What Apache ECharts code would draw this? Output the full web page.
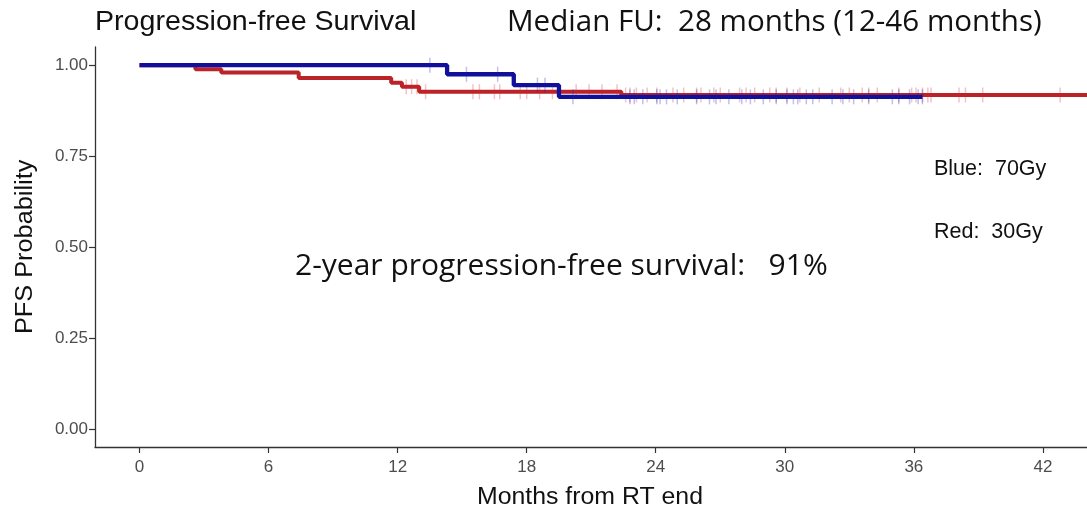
<!DOCTYPE html>
<html>
<head>
<meta charset="utf-8">
<script src="https://cdn.jsdelivr.net/npm/echarts@6/dist/echarts.min.js"></script>
<style>
html,body{margin:0;padding:0;background:#fff;}
#chart{width:1087px;height:515px;}
</style>
</head>
<body>
<div id="chart"></div>
<script>
// ---- data ----
const xTicks = [0, 6, 12, 18, 24, 30, 36, 42];
const yTicks = [0, 0.25, 0.5, 0.75, 1];

// 70Gy (blue) Kaplan-Meier steps
const blueTimes = [0, 14.3, 17.4, 19.5, 36.4];
const blueSurv  = [1.000, 0.975, 0.945, 0.913, 0.913];
const blueCensor = [13.5, 15.2, 16.65, 18.5, 18.85, 20.15, 22.8, 23.0, 23.4, 24.05, 24.2, 24.5,
  25.0, 25.9, 26.5, 26.8, 27.4, 28.0, 28.4, 29.0, 29.6, 30.1, 30.4, 30.6, 31.0, 31.3, 32.2,
  32.7, 33.2, 33.9, 35.0, 35.3, 35.8, 36.2, 36.4];

// 30Gy (red) Kaplan-Meier steps
const redTimes = [0, 2.6, 3.8, 7.4, 11.7, 12.2, 13.0, 22.4, 46];
const redSurv  = [1.000, 0.989, 0.980, 0.965, 0.952, 0.941, 0.927, 0.918, 0.918];
const redCensor = [12.4, 12.65, 12.9, 13.3, 15.5, 15.8, 16.5, 16.75, 17.7, 18.0, 18.6, 19.2,
  20.3, 20.9, 21.5, 22.2, 22.6, 22.8, 23.1, 23.6, 24.05, 24.8, 25.3, 25.9, 26.1, 26.7, 27.0,
  27.9, 28.2, 28.6, 29.3, 29.6, 30.1, 30.7, 31.6, 32.6, 33.0, 33.6, 33.9, 34.3, 35.3, 35.9,
  36.1, 36.4, 36.65, 36.8, 38.1, 38.4, 39.2, 42.8];

// ---- helpers ----
function pairs(ts, ss) { return ts.map((t, i) => [t, ss[i]]); }
function survAt(ts, ss, t) {
  let v = ss[0];
  for (let i = 0; i < ts.length; i++) { if (ts[i] <= t) v = ss[i]; }
  return v;
}
function censorPts(cs, ts, ss) { return cs.map(t => [t, survAt(ts, ss, t)]); }

const BLUE = '#10109a';
const RED = '#bb2329';
const ARIAL = '"Liberation Sans", Arial, sans-serif';
const SANS2 = '"Open Sans", "Noto Sans", sans-serif';

const chart = echarts.init(document.getElementById('chart'), null, {renderer: 'canvas'});
chart.setOption({
  animation: false,
  backgroundColor: '#fff',
  grid: {left: 95, right: 0, top: 47, bottom: 68, containLabel: false},
  xAxis: {
    type: 'value', min: -2.07, max: 44.05,
    axisLine: {show: true, onZero: false, lineStyle: {color: '#333', width: 1.3}},
    axisTick: {show: true, length: 6, lineStyle: {color: '#333', width: 1.2}, customValues: xTicks},
    axisLabel: {color: '#4d4d4d', fontSize: 17, fontFamily: ARIAL, margin: 12, customValues: xTicks},
    splitLine: {show: false}
  },
  yAxis: {
    type: 'value', min: -0.05, max: 1.05,
    axisLine: {show: true, onZero: false, lineStyle: {color: '#333', width: 1.3}},
    axisTick: {show: true, length: 6, lineStyle: {color: '#333', width: 1.2}, customValues: yTicks},
    axisLabel: {color: '#4d4d4d', fontSize: 17, fontFamily: ARIAL, margin: 7, customValues: yTicks,
      formatter: v => v.toFixed(2)},
    splitLine: {show: false}
  },
  series: [
    {type: 'line', name: '30Gy', step: 'end', data: pairs(redTimes, redSurv), showSymbol: false,
      lineStyle: {color: RED, width: 4}, clip: true, z: 2},
    {type: 'scatter', name: '30Gy censored', data: censorPts(redCensor, redTimes, redSurv),
      symbol: 'rect', symbolSize: [1.5, 15], itemStyle: {color: 'rgba(205,40,50,0.35)'}, z: 3},
    {type: 'line', name: '70Gy', step: 'end', data: pairs(blueTimes, blueSurv), showSymbol: false,
      lineStyle: {color: BLUE, width: 4.3}, clip: true, z: 4},
    {type: 'scatter', name: '70Gy censored', data: censorPts(blueCensor, blueTimes, blueSurv),
      symbol: 'rect', symbolSize: [1.5, 15], itemStyle: {color: 'rgba(30,30,180,0.35)'}, z: 5}
  ],
  graphic: [
    {type: 'text', left: 95, top: 9, scaleX: 1.06,
      style: {text: 'Progression-free Survival', font: '27px ' + ARIAL, fill: '#111'}},
    {type: 'text', left: 507, top: 8, scaleX: 1.02,
      style: {text: 'Median FU:  28 months (12-46 months)', font: '29px ' + SANS2, fill: '#111'}},
    {type: 'text', left: 295, top: 251, scaleX: 1.0,
      style: {text: '2-year progression-free survival:   91%', font: '30px ' + SANS2, fill: '#111'}},
    {type: 'text', left: 934, top: 158,
      style: {text: 'Blue:  70Gy', font: '21.5px ' + ARIAL, fill: '#111'}},
    {type: 'text', left: 934, top: 221,
      style: {text: 'Red:  30Gy', font: '21.5px ' + ARIAL, fill: '#111'}},
    {type: 'text', left: 477, top: 486, scaleX: 1.08,
      style: {text: 'Months from RT end', font: '23px ' + ARIAL, fill: '#111'}},
    {type: 'text', x: 14, y: 334, rotation: Math.PI / 2, scaleX: 1.1,
      style: {text: 'PFS Probability', font: '23px ' + ARIAL, fill: '#111'}}
  ]
});
</script>
</body>
</html>
